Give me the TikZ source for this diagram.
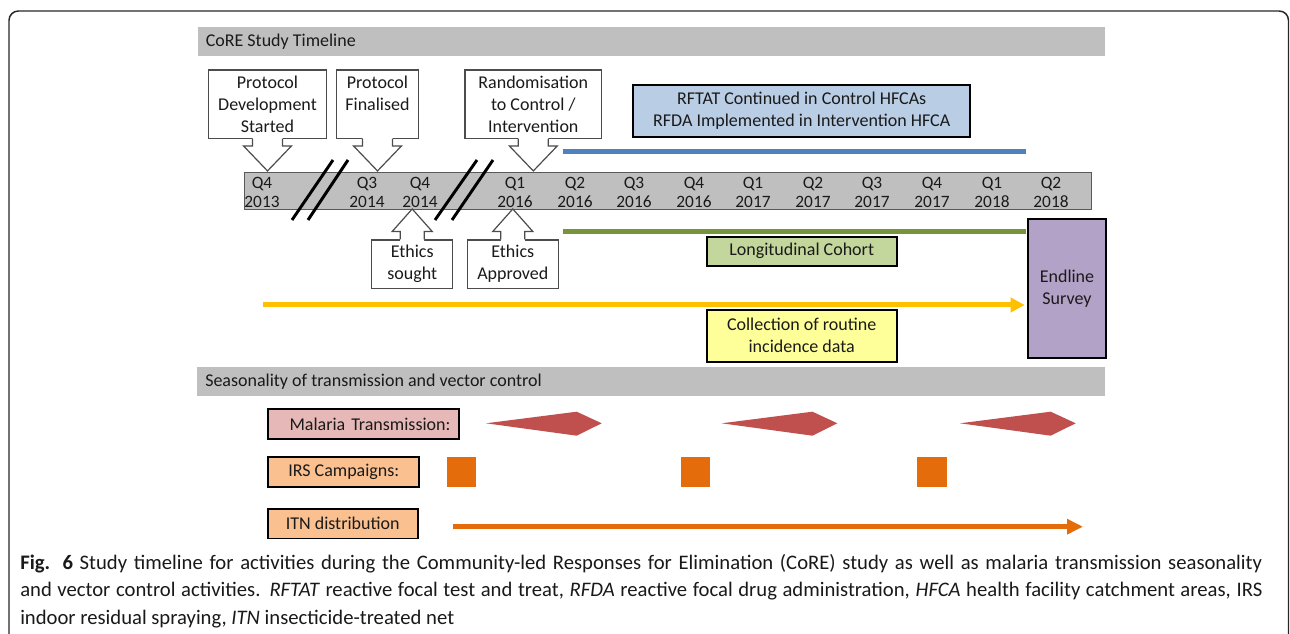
\documentclass[tikz,border=0pt]{standalone}
\usepackage{fontspec}
\setmainfont{Carlito}
\usetikzlibrary{arrows.meta}

\definecolor{barGray}{HTML}{BFBFBF}
\definecolor{rfBlue}{HTML}{4F81BD}
\definecolor{rfFill}{HTML}{B9CDE5}
\definecolor{lcGreen}{HTML}{77933C}
\definecolor{lcFill}{HTML}{C3D69B}
\definecolor{criYellow}{HTML}{FFC000}
\definecolor{criFill}{HTML}{FFFF99}
\definecolor{endFill}{HTML}{B3A2C7}
\definecolor{mtFill}{HTML}{E6B9B8}
\definecolor{mtRed}{HTML}{C0504D}
\definecolor{vcFill}{HTML}{FAC090}
\definecolor{vcOrange}{HTML}{E46C0A}
\definecolor{txt}{HTML}{1A1A1A}

% callout arrows under / over a box
\newcommand{\downcall}[1]{%
  \fill[white] ([yshift=1pt]#1.south) ++(-15,0) -- ++(0,8) -- ++(-9,0) -- ++(24,25)
    -- ++(24,-25) -- ++(-9,0) -- ++(0,-8) -- cycle;
  \draw[callline] (#1.south) ++(-15,0) -- ++(0,7) -- ++(-9,0) -- ++(24,25)
    -- ++(24,-25) -- ++(-9,0) -- ++(0,-7);}
\newcommand{\upcall}[1]{%
  \fill[white] ([yshift=-1pt]#1.north) ++(-12,0) -- ++(0,-9) -- ++(-8,0) -- ++(20,-22.5)
    -- ++(20,22.5) -- ++(-8,0) -- ++(0,9) -- cycle;
  \draw[callline] (#1.north) ++(-12,0) -- ++(0,-8) -- ++(-8,0) -- ++(20,-22.5)
    -- ++(20,22.5) -- ++(-8,0) -- ++(0,8);}

\begin{document}
\begin{tikzpicture}[x=0.75pt, y=-0.75pt,
    every node/.style={font=\fontsize{13.5}{16.5}\selectfont, text=txt},
    cbox/.style={draw=black!70, fill=white, line width=0.9pt, align=center, inner sep=0pt},
    callline/.style={draw=black!70, line width=0.9pt, line join=miter},
    colbox/.style={draw=black, line width=1.4pt, align=center, inner sep=0pt},
    qlab/.style={align=center, inner sep=0pt, font=\fontsize{13}{14.3}\selectfont},
    brk/.style={line width=2.2pt, black},
    vclab/.style={colbox, fill=vcFill, minimum height=22pt}]
  \useasboundingbox (0,0) rectangle (1290,634);

  % frame
  \draw[black!85, line width=1.1pt, rounded corners=7pt] (9,11) rectangle (1288.5,680);

  % headers
  \fill[barGray] (198,27) rectangle (1105,56);
  \node[anchor=west, inner sep=0pt] (hd1) at (205.5,41.5) {CoRE Study Timeline};

  % timeline bar
  \node[draw=black!65, fill=barGray, line width=0.9pt, minimum width=635.5pt,
        minimum height=27.75pt, inner sep=0pt] (tl) at (668,190.8) {};
  \foreach \x/\q/\yr in {262/Q4/2013, 367/Q3/2014, 420/Q4/2014, 515/Q1/2016,
      575/Q2/2016, 634/Q3/2016, 694/Q4/2016, 753/Q1/2017, 813/Q2/2017,
      872/Q3/2017, 932/Q4/2017, 992/Q1/2018, 1051/Q2/2018}
    \node[qlab] (q\yr\q) at (\x,192) {\q\\\yr};

  % breaks
  \draw[brk] (333,160) -- (292,220);
  \draw[brk] (348,160) -- (308,220);
  \draw[brk] (477,160) -- (435,220);
  \draw[brk] (493,160) -- (452,220);

  % callouts above
  \node[cbox, minimum width=88.8pt, minimum height=51.2pt] (pds) at (267.5,104.2)
    {Protocol\\Development\\Started};
  \node[cbox, minimum width=61.2pt, minimum height=51.2pt] (pfin) at (377.5,104.2)
    {Protocol\\Finalised\\\phantom{X}};
  \node[cbox, minimum width=102.5pt, minimum height=51.2pt] (rand) at (533.3,104.2)
    {Randomisation\\to Control /\\Intervention};
  \downcall{pds}
  \downcall{pfin}
  \downcall{rand}

  % callouts below
  \node[cbox, minimum width=60.75pt, minimum height=36.2pt] (es) at (412.2,264.2)
    {Ethics\\sought};
  \node[cbox, minimum width=68.25pt, minimum height=36.2pt] (ea) at (512.8,264.2)
    {Ethics\\Approved};
  \upcall{es}
  \upcall{ea}

  % RFTAT / RFDA
  \node[colbox, fill=rfFill, minimum width=252.5pt, minimum height=38.8pt] (rfbox)
    at (801.7,110.8) {RFTAT Continued in Control HFCAs\\RFDA Implemented in Intervention HFCA};
  \coordinate (rf0) at (563,151.7);
  \coordinate (rf1) at (1026,151.7);
  \draw[rfBlue, line width=3.75pt] (rf0) -- (rf1);

  % cohort
  \coordinate (lc0) at (563,231.7);
  \coordinate (lc1) at (1026,231.7);
  \draw[lcGreen, line width=3.6pt] (lc0) -- (lc1);
  \node[colbox, fill=lcFill, minimum width=142.5pt, minimum height=22pt] (lcbox)
    at (801.7,251.3) {Longitudinal Cohort};

  % endline + routine data
  \node[colbox, fill=endFill, minimum width=58pt, minimum height=104.25pt] (endl)
    at (1067,288.8) {Endline\\Survey};
  \coordinate (cri0) at (263,305);
  \draw[criYellow, line width=3.75pt, -{Triangle[length=10.5pt,width=10.5pt]},
        shorten >=2pt] (cri0) -- (cri0 -| endl.west);
  \node[colbox, fill=criFill, minimum width=142.5pt, minimum height=38.8pt] (cribox)
    at (801.7,335.8) {Collection of routine\\incidence data};

  % seasonality
  \fill[barGray] (197,367) rectangle (1105,396);
  \node[anchor=west, inner sep=0pt] (hd2) at (205,382)
    {Seasonality of transmission and vector control};

  \node[colbox, fill=mtFill, minimum height=22.3pt, text width=130pt, align=right,
        inner xsep=6.6pt] (mtlab) at (363.8,424.2) {Malaria Transmission:};
  \node[vclab, minimum width=113.25pt] (irslab) at (343.8,472) {IRS Campaigns:};
  \node[vclab, minimum width=112.5pt] (itnlab) at (342.7,523.8) {ITN distribution};

  \foreach \l in {486,721.7,960}
    \fill[mtRed] (\l,423.3) -- ++(90.7,-11.6) -- ++(25,11.6) -- ++(-25,12.4) -- cycle;
  \foreach \x in {446.7,681,917.3}
    \fill[vcOrange] (\x,457.3) rectangle ++(29.3,29.3);

  \coordinate (itn0) at (453,526.7);
  \coordinate (itn1) at (1083,526.7);
  \draw[vcOrange, line width=3.5pt, -{Triangle[length=12pt,width=11pt]}] (itn0) -- (itn1);

  % caption
  \node[anchor=north west, inner sep=0pt, text width=931.5pt, align=justify,
        font=\fontsize{15.5}{20.6}\selectfont, text=black!90]
    (cap) at (20,554)
    {\hyphenpenalty=10000 \textbf{Fig. 6} Study timeline for activities during the
     Community-led Responses for Elimination (CoRE) study as well as malaria
     transmission seasonality\linebreak
     and vector control activities. \textit{RFTAT} reactive focal test and treat,
     \textit{RFDA} reactive focal drug administration, \textit{HFCA} health facility
     catchment areas, IRS\linebreak indoor residual spraying, \textit{ITN}
     insecticide-treated net};
\end{tikzpicture}
\end{document}
